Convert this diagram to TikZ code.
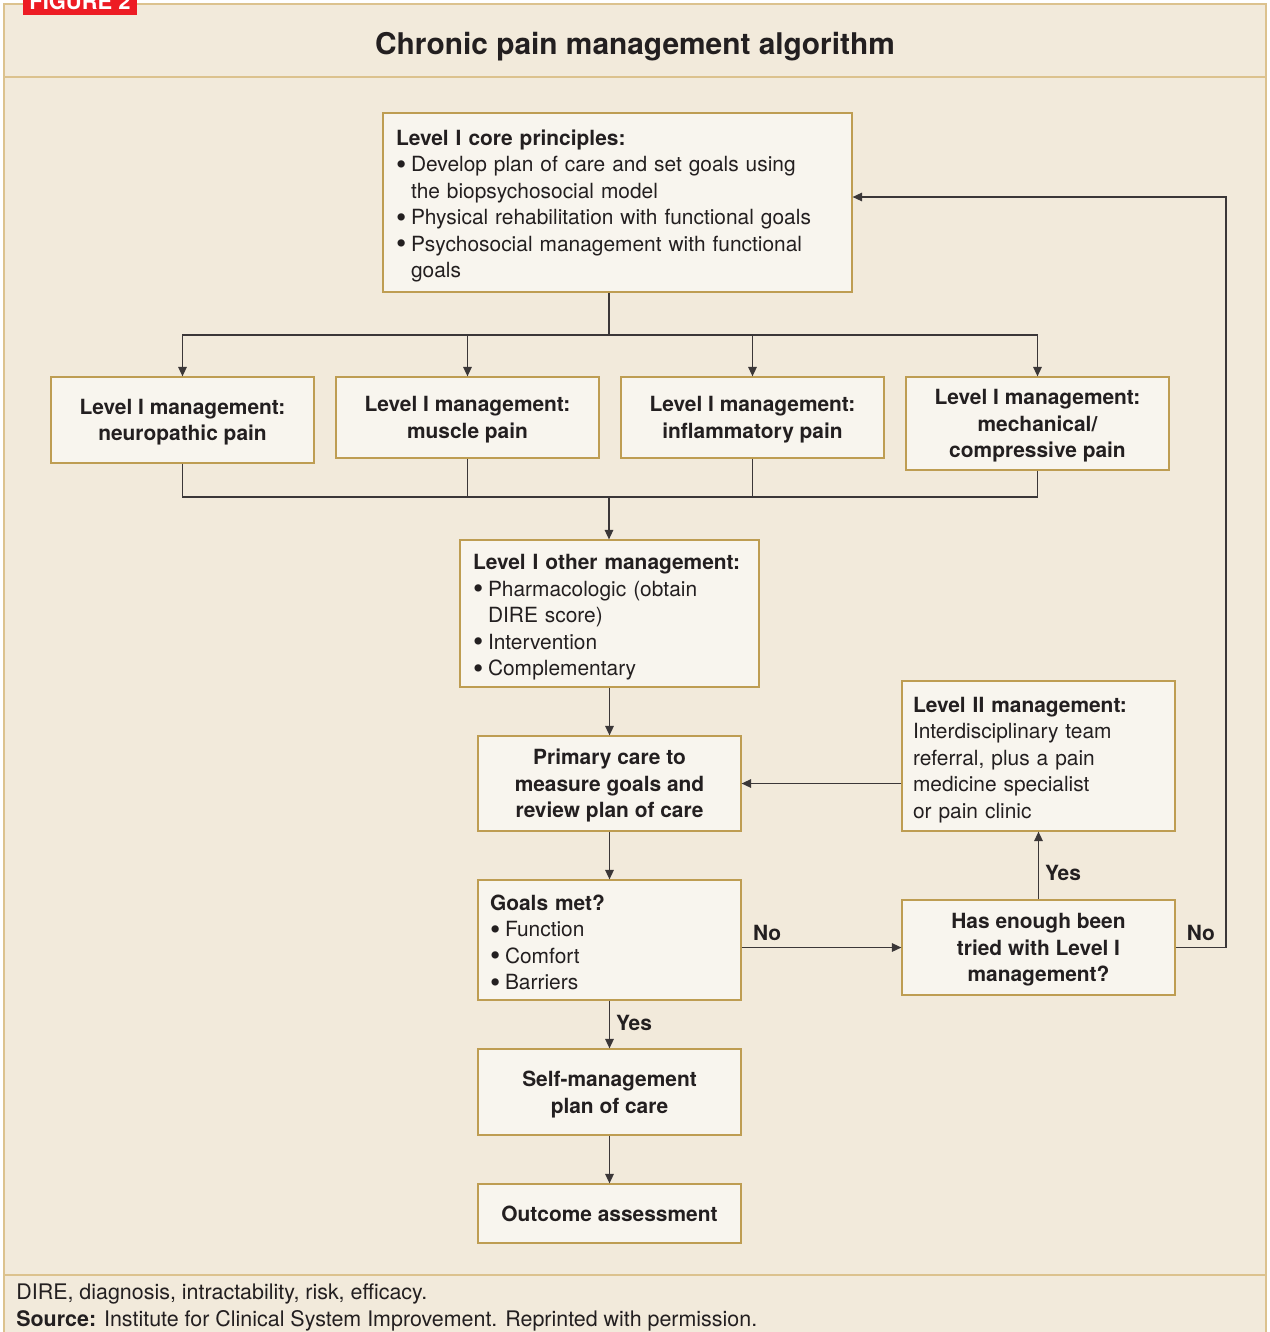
\documentclass[tikz,border=0pt]{standalone}
\usepackage{fontspec}
\setmainfont{TeX Gyre Heros}
\usetikzlibrary{arrows.meta,calc,positioning}
\definecolor{pagebg}{HTML}{F2EADB}
\definecolor{boxfill}{HTML}{F8F5EE}
\definecolor{boxline}{HTML}{BE9D52}
\definecolor{framecol}{HTML}{DCC28E}
\definecolor{ink}{HTML}{231F20}
\definecolor{wire}{HTML}{3B3738}
\definecolor{figred}{HTML}{ED1C24}
\newcommand{\bul}{\makebox[0.3cm][l]{\raisebox{-0.12em}{\scalebox{1.4}{\textbullet}}}}
\newcommand{\cont}{\hspace*{0.3cm}}
\newcommand{\boxhead}[1]{\rule{0pt}{13pt}\textbf{#1}}

\begin{document}
\begin{tikzpicture}[x=0.02cm, y=-0.02cm,
	box/.style = {draw=boxline, fill=boxfill, line width=0.7pt, inner sep=0pt, text=ink,
		font=\fontsize{11.9}{15.1}\selectfont},
	listbox/.style = {box, align=left},
	mgmt/.style = {box, align=center, text depth=0pt, font=\fontsize{11.9}{15.1}\selectfont\bfseries},
	link/.style = {draw=wire, line width=0.85pt},
	arr/.style = {link, -{Triangle[length=0.19cm,width=0.17cm]}},
	lbl/.style = {text=ink, font=\fontsize{11.9}{15.1}\selectfont\bfseries},
	foot/.style = {anchor=base west, inner sep=0pt, text=ink, font=\fontsize{12.2}{15.1}\selectfont}]
		\useasboundingbox (0,0) rectangle (1270,1332);
		\fill[white] (0,0) rectangle (1270,1332);
		\draw[framecol, line width=0.8pt, fill=pagebg] (4,4) rectangle (1266,1350);
		\draw[framecol, line width=0.8pt] (4,77) -- (1266,77);
		\draw[framecol, line width=0.8pt] (4,1275) -- (1266,1275);
		\fill[figred] (23,-10) rectangle (137,15);
		\node[text=white, font=\fontsize{12.5}{14}\selectfont\bfseries, anchor=base] (tag) at (80,10) {FIGURE 2};
		\node[text=ink, text depth=0pt, font=\fontsize{17}{20}\selectfont\bfseries] (title) at (635,43) {Chronic pain management algorithm};

		% boxes
		\node[listbox, minimum width=9.38cm, minimum height=3.58cm, text width=8.86cm] (core) at (617.5,202.5)
			{\boxhead{Level I core principles:}\\
			\bul Develop plan of care and set goals using\\
			\cont the biopsychosocial model\\
			\bul Physical rehabilitation with functional goals\\
			\bul Psychosocial management with functional\\
			\cont goals};
		\node[mgmt, minimum width=5.26cm, minimum height=1.72cm] (neuro) at (182.5,420) {Level I management:\\neuropathic pain};
		\node[mgmt, minimum width=5.26cm, minimum height=1.62cm] (muscle) at (467.5,417.5) {Level I management:\\muscle pain};
		\node[mgmt, minimum width=5.26cm, minimum height=1.62cm] (inflam) at (752.5,417.5) {Level I management:\\inflammatory pain};
		\node[mgmt, minimum width=5.26cm, minimum height=1.86cm] (mech) at (1037.5,423.5) {Level I management:\\mechanical/\\compressive pain};
		\node[listbox, minimum width=5.98cm, minimum height=2.94cm, text width=5.46cm] (other) at (609.5,613.5)
			{\boxhead{Level I other management:}\\
			\bul Pharmacologic (obtain\\
			\cont DIRE score)\\
			\bul Intervention\\
			\bul Complementary};
		\node[mgmt, minimum width=5.26cm, minimum height=1.9cm] (primary) at (609.5,783.5) {Primary care to\\measure goals and\\review plan of care};
		\node[listbox, minimum width=5.46cm, minimum height=3cm, text width=5.02cm] (levelII) at (1038.5,756)
			{\boxhead{Level II management:}\\
			Interdisciplinary team\\
			referral, plus a pain\\
			medicine specialist\\
			or pain clinic};
		\node[listbox, minimum width=5.26cm, minimum height=2.4cm, text width=4.78cm] (goals) at (609.5,940)
			{\boxhead{Goals met?}\\
			\bul Function\\
			\bul Comfort\\
			\bul Barriers};
		\node[mgmt, minimum width=5.46cm, minimum height=1.9cm] (enough) at (1038.5,947.5) {Has enough been\\tried with Level I\\management?};
		\node[mgmt, minimum width=5.26cm, minimum height=1.72cm] (selfm) at (609.5,1092) {Self-management\\plan of care};
		\node[mgmt, minimum width=5.26cm, minimum height=1.18cm] (outcome) at (609.5,1213.5) {Outcome assessment};

		% connectors
		\coordinate (fork) at (609,335);
		\coordinate (join) at (609,497);
		\coordinate (back) at (1226,197);
		\draw[link] (core.south -| fork) -- (fork);
		\foreach \nd in {neuro,muscle,inflam,mech} \draw[arr] (fork) -| (\nd);
		\foreach \nd in {neuro,muscle,inflam,mech} \draw[link] (\nd) |- (join);
		\draw[arr] (join) -- (join |- other.north);
		\draw[arr] (other) -- (primary);
		\draw[arr] (levelII.west |- primary) -- (primary.east);
		\draw[arr] (primary) -- (goals);
		\draw[arr] (goals.east |- enough) -- node[lbl, above, pos=0.16] {No} (enough.west);
		\draw[arr] (enough) -- node[lbl, right, pos=0.39] {Yes} (levelII);
		\draw[arr] (enough.east) -- node[lbl, above] {No} (enough.east -| back) -- (back) -- (core.east |- back);
		\draw[arr] (goals) -- node[lbl, right, pos=0.47] {Yes} (selfm);
		\draw[arr] (selfm) -- (outcome);

		\node[foot] (note) at (16,1299) {DIRE, diagnosis, intractability, risk, efficacy.};
		\node[foot] (src) at (16,1326) {\textbf{Source:} Institute for Clinical System Improvement. Reprinted with permission.};
	\end{tikzpicture}
\end{document}
